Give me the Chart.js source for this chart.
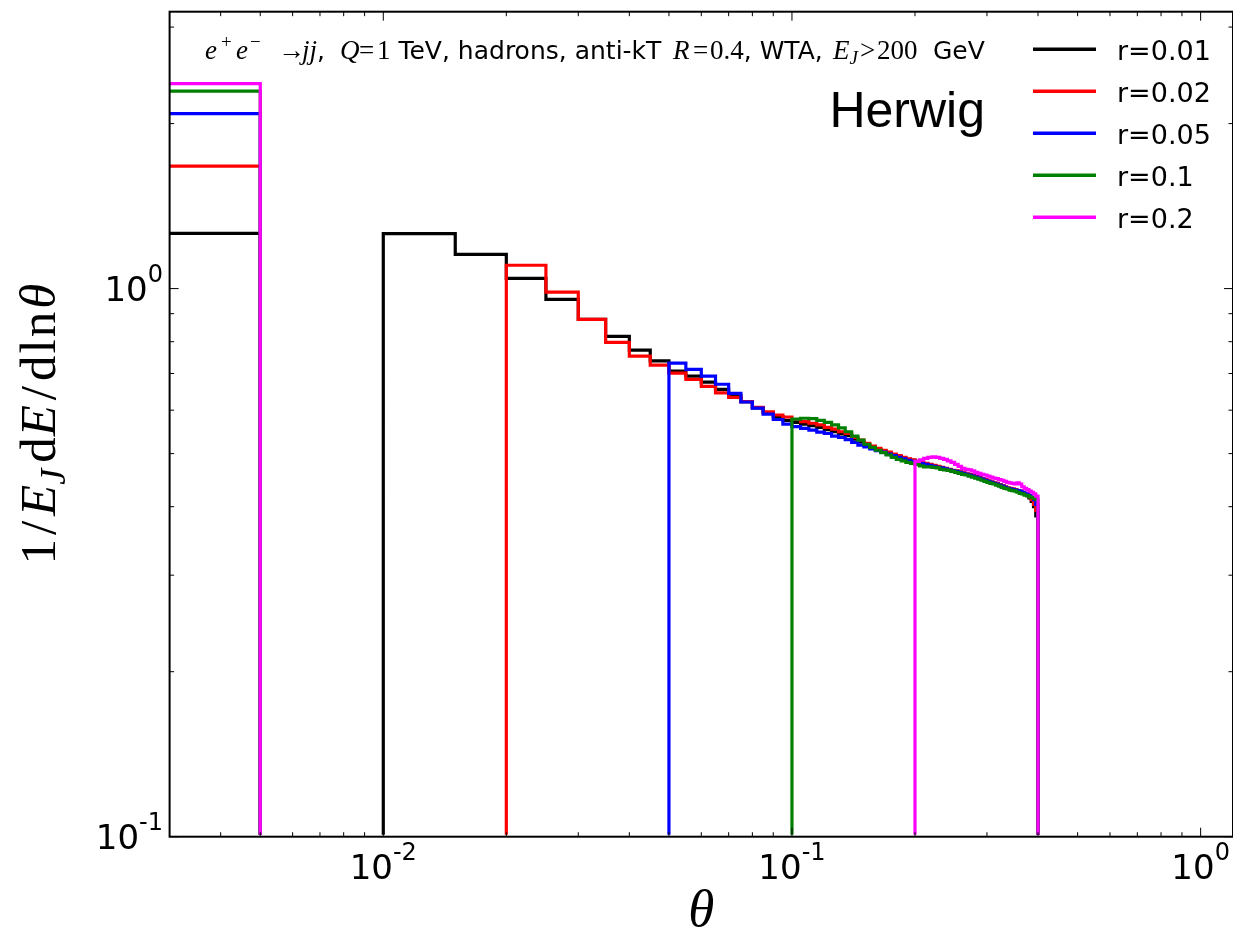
<!DOCTYPE html>
<html>
<head>
<meta charset="utf-8">
<script src="https://cdn.jsdelivr.net/npm/chart.js@4/dist/chart.umd.min.js"></script>
<style>
  html, body { margin: 0; padding: 0; background: #fff; }
  canvas { display: block; }
</style>
</head>
<body>
<canvas id="chart" width="1233" height="935"></canvas>
<script>
// histogram bin edges: 0 .. 0.4 in steps of 0.005
const binEdges = Array.from({length: 81}, (_, i) => Math.round(i * 5) / 1000);

const seriesLabels = ["r=0.01", "r=0.02", "r=0.05", "r=0.1", "r=0.2"];
const seriesColors = ["#000000", "#ff0000", "#0000ff", "#008000", "#ff00ff"];

// 1/E_J dE/dln(theta), one value per bin
const r001 = [1.261, 0, 1.26, 1.155, 1.044, 0.956, 0.879, 0.818, 0.772, 0.738,
  0.707, 0.692, 0.675, 0.655, 0.638, 0.622, 0.606, 0.594, 0.584, 0.575,
  0.570, 0.566, 0.562, 0.558, 0.553, 0.548, 0.543, 0.539, 0.531, 0.525,
  0.519, 0.514, 0.509, 0.505, 0.501, 0.497, 0.494, 0.491, 0.488, 0.486,
  0.483, 0.481, 0.479, 0.477, 0.475, 0.473, 0.471, 0.469, 0.467, 0.465,
  0.464, 0.462, 0.460, 0.458, 0.457, 0.455, 0.453, 0.451, 0.449, 0.447,
  0.445, 0.443, 0.441, 0.440, 0.438, 0.436, 0.434, 0.432, 0.431, 0.430,
  0.429, 0.428, 0.426, 0.424, 0.422, 0.419, 0.415, 0.409, 0.400, 0.385];
const r002 = [1.673, 0, 0, 0, 1.103, 0.985, 0.879, 0.798, 0.753, 0.725,
  0.701, 0.683, 0.663, 0.645, 0.633, 0.622, 0.607, 0.596, 0.588, 0.583,
  0.577, 0.572, 0.568, 0.564, 0.558, 0.554, 0.548, 0.544, 0.535, 0.529,
  0.522, 0.516, 0.511, 0.507, 0.503, 0.499, 0.496, 0.492, 0.489, 0.487,
  0.484, 0.482, 0.480, 0.478, 0.476, 0.474, 0.472, 0.470, 0.468, 0.466,
  0.465, 0.463, 0.461, 0.459, 0.458, 0.456, 0.454, 0.452, 0.450, 0.448,
  0.446, 0.444, 0.442, 0.441, 0.439, 0.437, 0.435, 0.433, 0.432, 0.431,
  0.430, 0.428, 0.427, 0.425, 0.423, 0.421, 0.417, 0.412, 0.404, 0.394];
const r005 = [2.085, 0, 0, 0, 0, 0, 0, 0, 0, 0,
  0.731, 0.712, 0.692, 0.669, 0.644, 0.621, 0.605, 0.590, 0.577, 0.566,
  0.560, 0.556, 0.552, 0.547, 0.544, 0.538, 0.535, 0.530, 0.524, 0.518,
  0.514, 0.510, 0.506, 0.503, 0.499, 0.496, 0.492, 0.489, 0.486, 0.484,
  0.482, 0.480, 0.478, 0.476, 0.474, 0.472, 0.471, 0.469, 0.467, 0.465,
  0.464, 0.462, 0.460, 0.458, 0.457, 0.455, 0.453, 0.451, 0.449, 0.447,
  0.445, 0.443, 0.441, 0.440, 0.438, 0.436, 0.434, 0.432, 0.431, 0.430,
  0.429, 0.428, 0.427, 0.425, 0.423, 0.422, 0.419, 0.416, 0.412, 0.404];
const r01 = [2.293, 0, 0, 0, 0, 0, 0, 0, 0, 0,
  0, 0, 0, 0, 0, 0, 0, 0, 0, 0,
  0.578, 0.580, 0.579, 0.575, 0.570, 0.564, 0.557, 0.548, 0.538, 0.529,
  0.520, 0.513, 0.507, 0.502, 0.497, 0.492, 0.488, 0.485, 0.482, 0.480,
  0.478, 0.475, 0.473, 0.473, 0.472, 0.471, 0.468, 0.467, 0.466, 0.464,
  0.462, 0.460, 0.458, 0.457, 0.455, 0.453, 0.451, 0.449, 0.447, 0.445,
  0.443, 0.441, 0.440, 0.438, 0.436, 0.434, 0.432, 0.431, 0.429, 0.428,
  0.427, 0.425, 0.423, 0.422, 0.420, 0.419, 0.417, 0.416, 0.414, 0.412];
const r02 = [2.365, 0, 0, 0, 0, 0, 0, 0, 0, 0,
  0, 0, 0, 0, 0, 0, 0, 0, 0, 0,
  0, 0, 0, 0, 0, 0, 0, 0, 0, 0,
  0, 0, 0, 0, 0, 0, 0, 0, 0, 0,
  0.484, 0.487, 0.490, 0.492, 0.493, 0.492, 0.490, 0.488, 0.485, 0.482,
  0.478, 0.474, 0.470, 0.468, 0.467, 0.465, 0.462, 0.460, 0.458, 0.457,
  0.455, 0.453, 0.451, 0.450, 0.448, 0.447, 0.445, 0.443, 0.442, 0.441,
  0.440, 0.442, 0.440, 0.435, 0.432, 0.430, 0.427, 0.425, 0.422, 0.418];

const xMajorTicks = [0.01, 0.1, 1];
const xTickLabels = ["10^-2", "10^-1", "10^0"];
const xMinorTicks = [0.004, 0.005, 0.006, 0.007, 0.008, 0.009,
  0.02, 0.03, 0.04, 0.05, 0.06, 0.07, 0.08, 0.09,
  0.2, 0.3, 0.4, 0.5, 0.6, 0.7, 0.8, 0.9];
const yMajorTicks = [0.1, 1];
const yTickLabels = ["10^-1", "10^0"];
const yMinorTicks = [0.2, 0.3, 0.4, 0.5, 0.6, 0.7, 0.8, 0.9, 2, 3];

function histPoints(values) {
  // left edge of every bin, then close at the last edge
  const pts = values.map((v, i) => ({x: binEdges[i], y: v}));
  pts.push({x: binEdges[binEdges.length - 1], y: 0});
  return pts;
}

const allSeries = [r001, r002, r005, r01, r02];

// parsing is off so that empty bins (0) stay in the line and sit at the axis floor
const datasets = allSeries.map((vals, i) => ({
  label: seriesLabels[i],
  data: histPoints(vals),
  parsing: false,
  borderColor: seriesColors[i],
  borderWidth: 3.2,
  pointRadius: 0,
  stepped: true,
  fill: false,
  order: allSeries.length - i,   // later series on top
  clip: {left: 0, top: 0, right: 0, bottom: -2}
}));

const SANS = '"DejaVu Sans"';
const SERIF = '"Liberation Serif"';

function drawParts(ctx, x, y, parts, doDraw) {
  let cx = x;
  for (const p of parts) {
    if (p.x !== undefined) cx = p.x;
    ctx.font = p.f;
    if (doDraw) ctx.fillText(p.t, cx, y + (p.dy || 0));
    cx += ctx.measureText(p.t).width + (p.gap || 0);
  }
  return cx - x;
}

function drawPower(ctx, label, x, y, align) {
  const [base, exp] = label.split("^");
  const parts = [
    {t: base, f: "34px " + SANS},
    {t: exp, f: "24px " + SANS, dy: -19}
  ];
  const w = drawParts(ctx, 0, 0, parts, false);
  const start = align === "center" ? x - w / 2 : x - w;
  drawParts(ctx, start, y, parts, true);
}

const decorations = {
  id: "decorations",
  afterDraw(chart) {
    const ctx = chart.ctx;
    const a = chart.chartArea;
    const xs = chart.scales.x, ys = chart.scales.y;
    ctx.save();
    ctx.fillStyle = "#000";
    ctx.strokeStyle = "#000";
    ctx.textAlign = "left";
    ctx.textBaseline = "alphabetic";

    // ticks, pointing inwards on all four sides
    ctx.lineWidth = 1;
    const seg = (x1, y1, x2, y2) => { ctx.beginPath(); ctx.moveTo(x1, y1); ctx.lineTo(x2, y2); ctx.stroke(); };
    const xt = (vals, len) => vals.forEach(v => {
      const p = xs.getPixelForValue(v);
      seg(p, a.bottom, p, a.bottom - len);
      seg(p, a.top, p, a.top + len);
    });
    const yt = (vals, len) => vals.forEach(v => {
      const p = ys.getPixelForValue(v);
      seg(a.left, p, a.left + len, p);
      seg(a.right, p, a.right - len, p);
    });
    xt(xMinorTicks, 4.5); xt(xMajorTicks, 9);
    yt(yMinorTicks, 4.5); yt(yMajorTicks, 9);

    // frame
    ctx.lineWidth = 2;
    ctx.strokeRect(a.left, a.top, a.right - a.left, a.bottom - a.top);

    // tick labels
    xMajorTicks.forEach((v, i) => drawPower(ctx, xTickLabels[i], xs.getPixelForValue(v), 879, "center"));
    yMajorTicks.forEach((v, i) => drawPower(ctx, yTickLabels[i], 163, ys.getPixelForValue(v) + 12.5, "right"));

    // axis labels
    ctx.font = "italic 53px " + SERIF;
    ctx.textAlign = "center";
    ctx.fillText("\u03b8", (a.left + a.right) / 2, 926);
    ctx.textAlign = "left";

    const YR = "51px " + SERIF, YI = "italic 51px " + SERIF;
    const yl = [
      {t: "1", f: YR, gap: 4},
      {t: "/", f: YR, gap: 5},
      {t: "E", f: YI},
      {t: "J", f: "italic 36px " + SERIF, dy: 10, gap: 6},
      {t: "d", f: YR, gap: 1},
      {t: "E", f: YI, gap: 5},
      {t: "/", f: YR, gap: 5},
      {t: "d", f: YR, gap: 2},
      {t: "l", f: YR, gap: 2},
      {t: "n", f: YR, gap: 3},
      {t: "\u03b8", f: YI}
    ];
    ctx.save();
    ctx.translate(55, (a.top + a.bottom) / 2);
    ctx.rotate(-Math.PI / 2);
    const ylw = drawParts(ctx, 0, 0, yl, false);
    drawParts(ctx, -ylw / 2, 0, yl, true);
    ctx.restore();

    // annotation line
    const MI = "italic 27px " + SERIF, MR = "27px " + SERIF;
    const MS = "19px " + SERIF, MSI = "italic 19px " + SERIF;
    const TX = "25px " + SANS;
    const title = [
      {t: "e", f: MI, x: 205}, {t: "+", f: MS, dy: -11, x: 221},
      {t: "e", f: MI, x: 236}, {t: "\u2212", f: MS, dy: -11, x: 250},
      {t: "\u2192", f: MR, x: 278}, {t: "jj", f: MI, x: 302}, {t: ",", f: TX},
      {t: "Q", f: MI, x: 340}, {t: "=", f: MR, x: 359}, {t: "1", f: MR, x: 377},
      {t: " TeV, hadrons, anti-kT", f: TX},
      {t: "R", f: MI, x: 673}, {t: "=", f: MR, x: 693}, {t: "0.4", f: MR, x: 710},
      {t: ", WTA,", f: TX},
      {t: "E", f: MI, x: 833}, {t: "J", f: MSI, dy: 5}, {t: ">", f: MR, x: 860}, {t: "200", f: MR, x: 877},
      {t: "GeV", f: TX, x: 933}
    ];
    drawParts(ctx, 205, 59, title, true);

    // generator tag
    ctx.font = "50px \"Liberation Sans\"";
    ctx.textAlign = "right";
    ctx.fillText("Herwig", 985, 127);
    ctx.textAlign = "left";

    // legend
    ctx.font = "27px " + SANS;
    chart.data.datasets.forEach((ds, i) => {
      const yy = 49.3 + 42 * i;
      ctx.strokeStyle = ds.borderColor;
      ctx.lineWidth = 3.5;
      seg(1033, yy, 1096, yy);
      ctx.fillText(ds.label, 1117, yy + 10.5);
    });
    ctx.restore();
  }
};

new Chart(document.getElementById("chart"), {
  type: "line",
  data: {datasets},
  options: {
    responsive: false,
    animation: false,
    events: [],
    layout: {padding: {left: 169.6, right: -3.5, top: 11.7, bottom: 98.3}},
    scales: {
      x: {type: "logarithmic", min: 0.003, max: 1.2, display: false},
      y: {type: "logarithmic", min: 0.1, max: 3.2, display: false}
    },
    plugins: {legend: {display: false}, tooltip: {enabled: false}}
  },
  plugins: [decorations]
});
</script>
</body>
</html>
